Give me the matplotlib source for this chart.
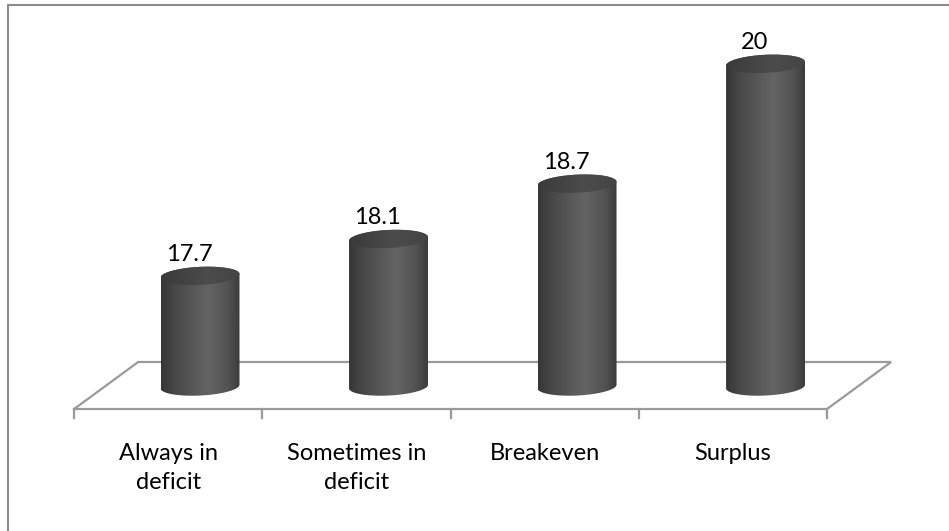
import numpy as np
import matplotlib.pyplot as plt
from matplotlib.path import Path
from matplotlib.patches import PathPatch, Rectangle
from matplotlib.colors import LinearSegmentedColormap

plt.rcParams['font.family'] = ['Lato', 'DejaVu Sans']

categories = ["Always in\ndeficit", "Sometimes in\ndeficit", "Breakeven", "Surplus"]
values = [17.7, 18.1, 18.7, 20]
labels = ["17.7", "18.1", "18.7", "20"]

base = 16.5          # value at the floor of the cylinders
n = len(values)

fig = plt.figure(figsize=(9.49, 5.31), dpi=100)
ax = fig.add_axes([0, 0, 1, 1])
ax.set_xlim(-1.061, 3.973)
ax.set_ylim(14.933, 20.692)
ax.axis('off')

# outer frame (only top and left edges are inside the picture)
frame = Rectangle((8 / 949, -0.1), 1.2, 1 - 5 / 531 + 0.1, transform=ax.transAxes,
                  fill=False, edgecolor='#8c8c8c', lw=1.5, clip_on=False)
ax.add_patch(frame)

# floor in perspective
gray = '#9a9a9a'
dx, dy = 0.34, 0.51
fy = base - 0.244
x0, x1 = -0.668, n - 1 + 0.326
ax.plot([x0, x1, x1 + dx, x0 + dx, x0], [fy, fy, fy + dy, fy + dy, fy],
        color=gray, lw=1.6, solid_joinstyle='miter', zorder=1)
for k in range(n + 1):
    tx = x0 + k * (x1 - x0) / n
    ax.plot([tx, tx], [fy, fy - 0.1], color=gray, lw=1.6, zorder=1)
    if k < n:
        ax.text(tx + (x1 - x0) / n / 2, fy - 0.37, categories[k], ha='center', va='top',
                fontsize=17, linespacing=1.45, color='#000000')

# cylinders
a = 0.2095        # half width (x units)
b = 0.098         # half height of the ellipses (value units)
k_sh = 0.02       # slight tilt of the ellipses

body_cmap = LinearSegmentedColormap.from_list(
    'body', [(0, '#363636'), (0.2, '#4a4a4a'), (0.6, '#646464'), (0.85, '#525252'), (1, '#3b3b3b')])
top_cmap = LinearSegmentedColormap.from_list(
    'top', [(0, '#3a3a3a'), (0.6, '#4c4c4c'), (1, '#444444')])
grad = np.linspace(0, 1, 256).reshape(1, -1)


def ell(cx, cy, t):
    return cx + a * np.cos(t), cy + b * np.sin(t) + k_sh * np.cos(t)


for i, v in enumerate(values):
    t_bot = np.linspace(np.pi, 2 * np.pi, 80)
    t_top = np.linspace(0, np.pi, 80)
    bx, by = ell(i, base, t_bot)
    tx_, ty_ = ell(i, v, t_top)
    px = np.concatenate([bx, tx_])
    py = np.concatenate([by, ty_])
    body = PathPatch(Path(np.column_stack([px, py]), closed=False), facecolor='none',
                     edgecolor='none', zorder=3)
    ax.add_patch(body)
    im = ax.imshow(grad, cmap=body_cmap, extent=[i - a, i + a, base - 0.2, v + 0.2],
                   aspect='auto', zorder=3, interpolation='bilinear')
    im.set_clip_path(body)

    t_all = np.linspace(0, 2 * np.pi, 160)
    ex, ey = ell(i, v, t_all)
    top = PathPatch(Path(np.column_stack([ex, ey])), facecolor='none', edgecolor='none', zorder=4)
    ax.add_patch(top)
    im2 = ax.imshow(grad, cmap=top_cmap, extent=[i - a, i + a, v - 0.2, v + 0.2],
                    aspect='auto', zorder=4, interpolation='bilinear')
    im2.set_clip_path(top)

    ax.text(i - 0.058, v + b + 0.06, labels[i], ha='center', va='baseline',
            fontsize=17, color='#000000', zorder=5)

ax.set_xlim(-1.061, 3.973)
ax.set_ylim(14.933, 20.692)

fig.savefig('out.png', dpi=100)
